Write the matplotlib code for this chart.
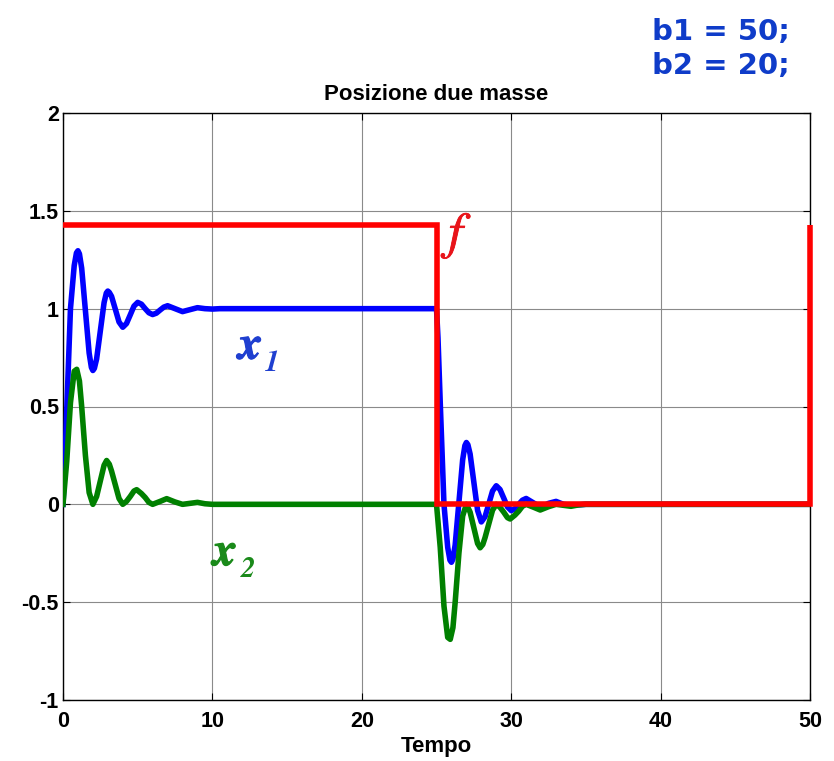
import matplotlib
matplotlib.use("Agg")
import matplotlib.pyplot as plt
import matplotlib.patheffects as pe

# ---- data ----
t_x1 = [0, 0.1, 0.25, 0.5, 0.75, 0.9, 1.0, 1.1, 1.25, 1.5, 1.75, 1.9, 2.0, 2.1,
        2.25, 2.5, 2.75, 2.9, 3.0, 3.1, 3.25, 3.5, 3.75, 4.0, 4.25, 4.5, 4.75,
        5.0, 5.25, 5.5, 5.75, 6.0, 6.25, 6.5, 6.75, 7.0, 7.5, 8.0, 8.5, 9.0, 9.5,
        10.0, 10.5, 25.0,
        25.1, 25.25, 25.5, 25.75, 25.9, 26.0, 26.1, 26.25, 26.5, 26.75, 26.9,
        27.0, 27.1, 27.25, 27.5, 27.75, 28.0, 28.25, 28.5, 28.75, 29.0, 29.25,
        29.5, 29.75, 30.0, 30.25, 30.5, 30.75, 31.0, 31.5, 32.0, 32.5, 33.0,
        33.5, 34.0, 35.0, 50.0]
x1 = [0.0, 0.15, 0.48, 1.0, 1.22, 1.285, 1.296, 1.28, 1.207, 0.99, 0.773, 0.70,
      0.684, 0.695, 0.743, 0.887, 1.031, 1.08, 1.09, 1.083, 1.063, 0.998, 0.932,
      0.905, 0.924, 0.968, 1.013, 1.032, 1.023, 1.0, 0.979, 0.97, 0.977, 0.993,
      1.008, 1.015, 1.0, 0.985, 0.995, 1.005, 1.0, 0.998, 1.0, 1.0,
      0.85, 0.52, 0.0, -0.22, -0.285, -0.296, -0.28, -0.207, 0.01, 0.227, 0.30,
      0.316, 0.305, 0.257, 0.113, -0.031, -0.09, -0.063, 0.002, 0.068, 0.095,
      0.076, 0.032, -0.013, -0.032, -0.023, 0.0, 0.021, 0.03, 0.007, -0.015,
      0.005, 0.015, 0.0, -0.005, 0.0, 0.0]

t_x2 = [0, 0.25, 0.5, 0.75, 0.92, 1.1, 1.25, 1.5, 1.75, 2.0, 2.25, 2.5, 2.75,
        2.92, 3.1, 3.25, 3.5, 3.75, 4.0, 4.25, 4.5, 4.75, 4.93, 5.25, 5.5, 5.75,
        6.0, 6.5, 6.94, 7.5, 8.0, 8.5, 9.0, 9.5, 10.0, 25.0,
        25.25, 25.5, 25.75, 25.92, 26.1, 26.25, 26.5, 26.75, 27.0, 27.25, 27.5,
        27.75, 27.92, 28.1, 28.25, 28.5, 28.75, 29.0, 29.25, 29.5, 29.75, 29.93,
        30.25, 30.5, 30.75, 31.0, 31.5, 31.94, 32.5, 33.0, 33.5, 34.0, 34.5,
        35.0, 50.0]
x2 = [0.0, 0.22, 0.52, 0.68, 0.69, 0.63, 0.5, 0.25, 0.06, 0.0, 0.04, 0.12, 0.2,
      0.224, 0.205, 0.17, 0.1, 0.03, 0.0, 0.015, 0.04, 0.068, 0.075, 0.055,
      0.035, 0.01, 0.0, 0.015, 0.029, 0.012, 0.0, 0.005, 0.01, 0.003, 0.0, 0.0,
      -0.22, -0.52, -0.68, -0.69, -0.63, -0.5, -0.25, -0.06, 0.0, -0.04, -0.12,
      -0.2, -0.222, -0.205, -0.17, -0.1, -0.03, 0.0, -0.015, -0.04, -0.068,
      -0.075, -0.055, -0.035, -0.01, 0.0, -0.015, -0.029, -0.012, 0.0, -0.005,
      -0.01, -0.003, 0.0, 0.0]

t_f = [0, 25, 25, 50, 50]
f = [1.43, 1.43, 0.0, 0.0, 1.43]

x_ticks = [0, 10, 20, 30, 40, 50]
y_ticks = [-1, -0.5, 0, 0.5, 1, 1.5, 2]
y_tick_labels = ["-1", "-0.5", "0", "0.5", "1", "1.5", "2"]

title = "Posizione due masse"
xlabel = "Tempo"
params_text = ["b1 = 50;", "b2 = 20;"]

# ---- figure ----
fig = plt.figure(figsize=(8.34, 7.61), dpi=100)
ax = fig.add_axes([63 / 834, 1 - 700 / 761, (810 - 63) / 834, (700 - 113) / 761])

lw = 4.0
ax.plot(t_x1, x1, color=(0, 0, 1), lw=lw, solid_joinstyle="round", zorder=3)
ax.plot(t_x2, x2, color=(0, 0.5, 0), lw=lw, solid_joinstyle="round", zorder=3)
ax.plot(t_f, f, color=(1, 0, 0), lw=lw, solid_joinstyle="miter",
        solid_capstyle="butt", zorder=4, clip_on=False)

ax.set_xlim(0, 50)
ax.set_ylim(-1, 2)
ax.set_xticks(x_ticks)
ax.set_yticks(y_ticks)
ax.set_yticklabels(y_tick_labels)
ax.grid(True, color="#8a8a8a", lw=0.8, linestyle="-")
ax.set_axisbelow(True)
ax.tick_params(direction="in", length=5, width=0.8, top=True, right=True,
               labelsize=15.5)
ax.tick_params(axis="x", pad=8)
ax.tick_params(axis="y", pad=3)
sans = ["Liberation Sans", "DejaVu Sans"]
for lab in ax.get_xticklabels() + ax.get_yticklabels():
    lab.set_fontweight("bold")
    lab.set_family(sans)
for sp in ax.spines.values():
    sp.set_linewidth(1.0)
    sp.set_color("black")

ax.set_title(title, fontsize=16, fontweight="bold", family=sans, pad=9)
ax.set_xlabel(xlabel, fontsize=16, fontweight="bold", family=sans, labelpad=3)

# curve labels
serif = ["STIXGeneral", "Liberation Serif", "DejaVu Serif"]
thick = lambda c, w=0.8: [pe.withStroke(linewidth=w, foreground=c)]
rd = "#e8141a"
ax.text(25.8, 1.31, "f", color=rd, fontsize=37, style="italic",
        family=serif, ha="left", va="baseline", path_effects=thick(rd, 0.6))
bl = "#1f3fd0"
gr = "#1a8a1a"
ax.text(11.75, 0.745, "x", color=bl, fontsize=34, style="italic",
        fontweight="bold", family=serif, ha="left", va="baseline",
        path_effects=thick(bl))
ax.text(13.5, 0.68, "1", color=bl, fontsize=21, style="italic",
        fontweight="bold", family=serif, ha="left", va="baseline")
ax.text(10.05, -0.31, "x", color=gr, fontsize=34, style="italic",
        fontweight="bold", family=serif, ha="left", va="baseline",
        path_effects=thick(gr))
ax.text(11.9, -0.37, "2", color=gr, fontsize=21, style="italic",
        fontweight="bold", family=serif, ha="left", va="baseline")

# parameter annotation
for i, s in enumerate(params_text):
    fig.text(652 / 834, 1 - (32 + 34 * i) / 761, s, color="#0f3cc9",
             fontsize=21, fontweight="bold", family=["DejaVu Sans"],
             ha="left", va="center")

fig.savefig("out.png", dpi=100)
